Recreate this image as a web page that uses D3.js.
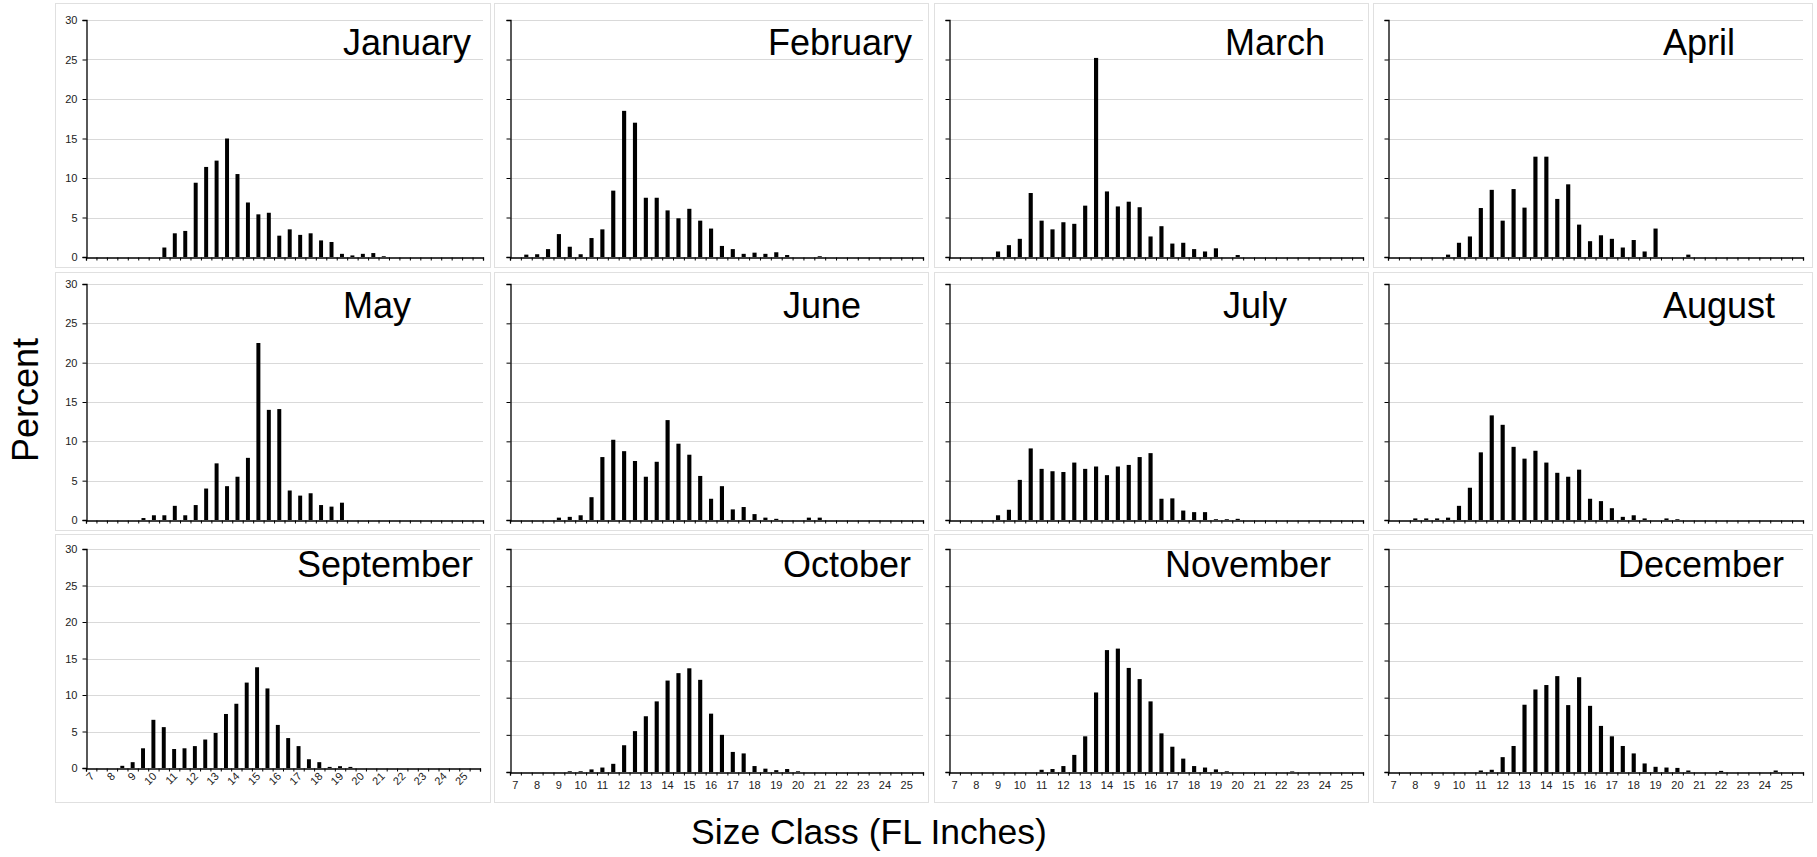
<!DOCTYPE html>
<html><head><meta charset="utf-8">
<script src="https://cdn.jsdelivr.net/npm/d3@7"></script>
<style>
body{margin:0;background:#fff}
svg{display:block}
text{font-family:Arial,"Liberation Sans",sans-serif}
</style>
</head><body>
<svg id="c" width="1817" height="857"></svg>
<script>
// ---------------- DATA ----------------
const sizeClasses = ["7","7.5","8","8.5","9","9.5","10","10.5","11","11.5","12","12.5","13","13.5","14","14.5","15","15.5","16","16.5","17","17.5","18","18.5","19","19.5","20","20.5","21","21.5","22","22.5","23","23.5","24","24.5","25","25.5"];
const tickLabels = ["7","8","9","10","11","12","13","14","15","16","17","18","19","20","21","22","23","24","25"];
const yTicks = [0,5,10,15,20,25,30];
const months = ["January","February","March","April","May","June","July","August","September","October","November","December"];

const jan = [0,0,0,0,0,0,0,1.2,3.0,3.3,9.4,11.4,12.2,15.0,10.5,6.9,5.4,5.6,2.7,3.5,2.8,3.0,2.1,1.9,0.4,0.2,0.4,0.5,0.1,0,0,0,0,0,0,0,0,0];
const feb = [0,0.3,0.35,1.0,2.9,1.3,0.35,2.4,3.5,8.4,18.5,17.0,7.5,7.5,5.9,4.9,6.1,4.6,3.6,1.4,1.0,0.4,0.55,0.4,0.6,0.25,0,0,0.1,0,0,0,0,0,0,0,0,0];
const mar = [0,0,0,0,0.7,1.5,2.3,8.1,4.6,3.5,4.4,4.2,6.5,25.2,8.3,6.4,7.0,6.3,2.6,3.9,1.7,1.8,1.0,0.7,1.1,0,0.25,0,0,0,0,0,0,0,0,0,0,0];
const apr = [0,0,0,0,0,0.3,1.8,2.6,6.2,8.5,4.6,8.6,6.25,12.7,12.7,7.35,9.2,4.1,2.0,2.75,2.3,1.2,2.15,0.7,3.6,0,0,0.3,0,0,0,0,0,0,0,0,0,0];
const may = [0,0,0,0,0,0.25,0.6,0.6,1.8,0.6,1.9,4.0,7.2,4.3,5.5,7.9,22.5,14.0,14.1,3.75,3.1,3.4,1.9,1.7,2.2,0,0,0,0,0,0,0,0,0,0,0,0,0];
const jun = [0,0,0,0,0.3,0.4,0.6,2.9,8.0,10.2,8.75,7.5,5.5,7.4,12.7,9.7,8.3,5.6,2.7,4.3,1.35,1.65,0.75,0.3,0.15,0,0,0.3,0.3,0,0,0,0,0,0,0,0,0];
const jul = [0,0,0,0,0.6,1.3,5.1,9.1,6.5,6.2,6.1,7.3,6.5,6.8,5.7,6.8,7.0,8.0,8.5,2.7,2.75,1.2,1.0,1.0,0.1,0.1,0.15,0,0,0,0,0,0,0,0,0,0,0];
const aug = [0,0,0.2,0.2,0.2,0.3,1.8,4.1,8.6,13.3,12.1,9.3,7.8,8.8,7.3,6.0,5.5,6.4,2.7,2.4,1.5,0.4,0.6,0.2,0,0.2,0.1,0,0,0,0,0,0,0,0,0,0,0];
const sep = [0,0,0,0.3,0.8,2.7,6.6,5.6,2.6,2.7,3.0,3.9,4.8,7.4,8.8,11.7,13.8,10.9,5.9,4.1,3.0,1.2,0.8,0.15,0.25,0.15,0,0,0,0,0,0,0,0,0,0,0,0];
const oct = [0,0,0,0,0,0.1,0.1,0.35,0.6,1.1,3.6,5.5,7.5,9.5,12.3,13.3,13.95,12.4,7.85,5.0,2.7,2.5,0.8,0.45,0.25,0.4,0.1,0,0,0,0,0,0,0,0,0,0,0];
const nov = [0,0,0,0,0,0,0,0,0.3,0.4,0.8,2.3,4.8,10.7,16.4,16.6,14.0,12.5,9.5,5.2,3.4,1.8,0.8,0.6,0.35,0.1,0,0,0,0,0,0.08,0,0,0,0,0,0];
const dec = [0,0,0,0,0,0,0,0,0.2,0.3,2.0,3.5,9.05,11.1,11.7,12.9,9.0,12.75,8.9,6.2,4.8,3.5,2.5,1.15,0.7,0.6,0.55,0.2,0,0,0.15,0,0,0,0,0.2,0,0];

const series = [jan,feb,mar,apr,may,jun,jul,aug,sep,oct,nov,dec];

// ---------------- LAYOUT ----------------
const colX0 = [86, 510, 949, 1388];
const colX1 = [483, 923, 1363, 1803];
const rowY0 = [20, 284, 549];
const rowY1 = [257, 520, 772];
const titleLeft = [343, 768, 1225, 1663, 343, 783, 1223, 1663, 297, 783, 1165, 1618];
const titleBase = [55, 318, 577];
const frameX = [[55, 490], [494, 928], [934, 1368], [1373, 1812]];
const frameY = [[3, 267], [272, 530], [534, 802]];

const svg = d3.select("#c");
const GRID = "#d9d9d9";
const FRAME = "#e0e0e0";

months.forEach((m, k) => {
  const col = k % 4, row = Math.floor(k / 4);
  const x0 = colX0[col], x1 = (k === 8) ? 480 : colX1[col];
  const y0 = rowY0[row], y1 = (k === 8) ? 768 : rowY1[row];
  const g = svg.append("g");

  // panel frame
  g.append("rect")
    .attr("x", frameX[col][0] + 0.5).attr("y", frameY[row][0] + 0.5)
    .attr("width", frameX[col][1] - frameX[col][0]).attr("height", frameY[row][1] - frameY[row][0])
    .attr("fill", "none").attr("stroke", FRAME).attr("stroke-width", 1);

  const x = d3.scaleBand().domain(sizeClasses).range([x0, x1]).padding(0);
  const xl = d3.scaleLinear().domain([0, sizeClasses.length]).range([x0, x1]);
  const y = d3.scaleLinear().domain([0, 30]).range([y1, y0]);

  // gridlines
  g.append("g").selectAll("line").data(yTicks.filter(v => v > 0)).join("line")
    .attr("x1", x0).attr("x2", x1)
    .attr("y1", d => Math.round(y(d)) + 0.5).attr("y2", d => Math.round(y(d)) + 0.5)
    .attr("stroke", GRID).attr("stroke-width", 1.2);

  // bars
  const bw = x.bandwidth() * 0.38;
  g.append("g").selectAll("rect").data(series[k]).join("rect")
    .attr("x", (d, i) => x(sizeClasses[i]) + (x.bandwidth() - bw) / 2)
    .attr("width", bw)
    .attr("y", d => y(d))
    .attr("height", d => y(0) - y(d))
    .attr("fill", "#000");

  // y axis
  const ya = d3.axisLeft(y).tickValues(yTicks).tickSize(4).tickPadding(5)
    .tickFormat(col === 0 ? d3.format("d") : () => "");
  const yg = g.append("g").attr("transform", `translate(${x0 + 0.5},0)`).call(ya);
  yg.select(".domain").attr("stroke", "#000").attr("stroke-width", 1.3);
  yg.selectAll(".tick line").attr("stroke", "#000");
  yg.selectAll("text").attr("font-size", 11).attr("fill", "#222")
    .style("font-family", "Arial, 'Liberation Sans', sans-serif");

  // x axis tick marks at band boundaries
  const xa = d3.axisBottom(xl).tickValues(d3.range(0, sizeClasses.length + 1)).tickSize(3).tickFormat(() => "");
  const xg = g.append("g").attr("transform", `translate(0,${y1 + 0.5})`).call(xa);
  xg.select(".domain").attr("stroke", "#000").attr("stroke-width", 1.3);
  xg.selectAll(".tick line").attr("stroke", "#000");

  // x tick labels on the bottom row
  if (row === 2) {
    const xlab = d3.axisBottom(x).tickValues(tickLabels).tickSize(0).tickPadding(9);
    const lg = g.append("g").attr("transform", `translate(0,${y1})`).call(xlab);
    lg.select(".domain").remove();
    lg.selectAll("text").attr("font-size", 11).attr("fill", "#222")
      .style("font-family", "Arial, 'Liberation Sans', sans-serif");
    if (k === 8) {
      lg.selectAll("text")
        .attr("y", 0).attr("dy", 0)
        .attr("text-anchor", "end")
        .attr("transform", "translate(4,9) rotate(-45)");
    }
  }

  // title
  g.append("text")
    .attr("x", titleLeft[k]).attr("y", titleBase[row])
    .attr("font-size", 36).attr("fill", "#000")
    .text(m);
});

// axis titles
svg.append("text")
  .attr("transform", "translate(38,400) rotate(-90)")
  .attr("text-anchor", "middle")
  .attr("font-size", 36).attr("fill", "#000")
  .text("Percent");

svg.append("text")
  .attr("x", 869).attr("y", 844)
  .attr("text-anchor", "middle")
  .attr("font-size", 35.5).attr("fill", "#000")
  .text("Size Class (FL Inches)");
</script>
</body></html>
